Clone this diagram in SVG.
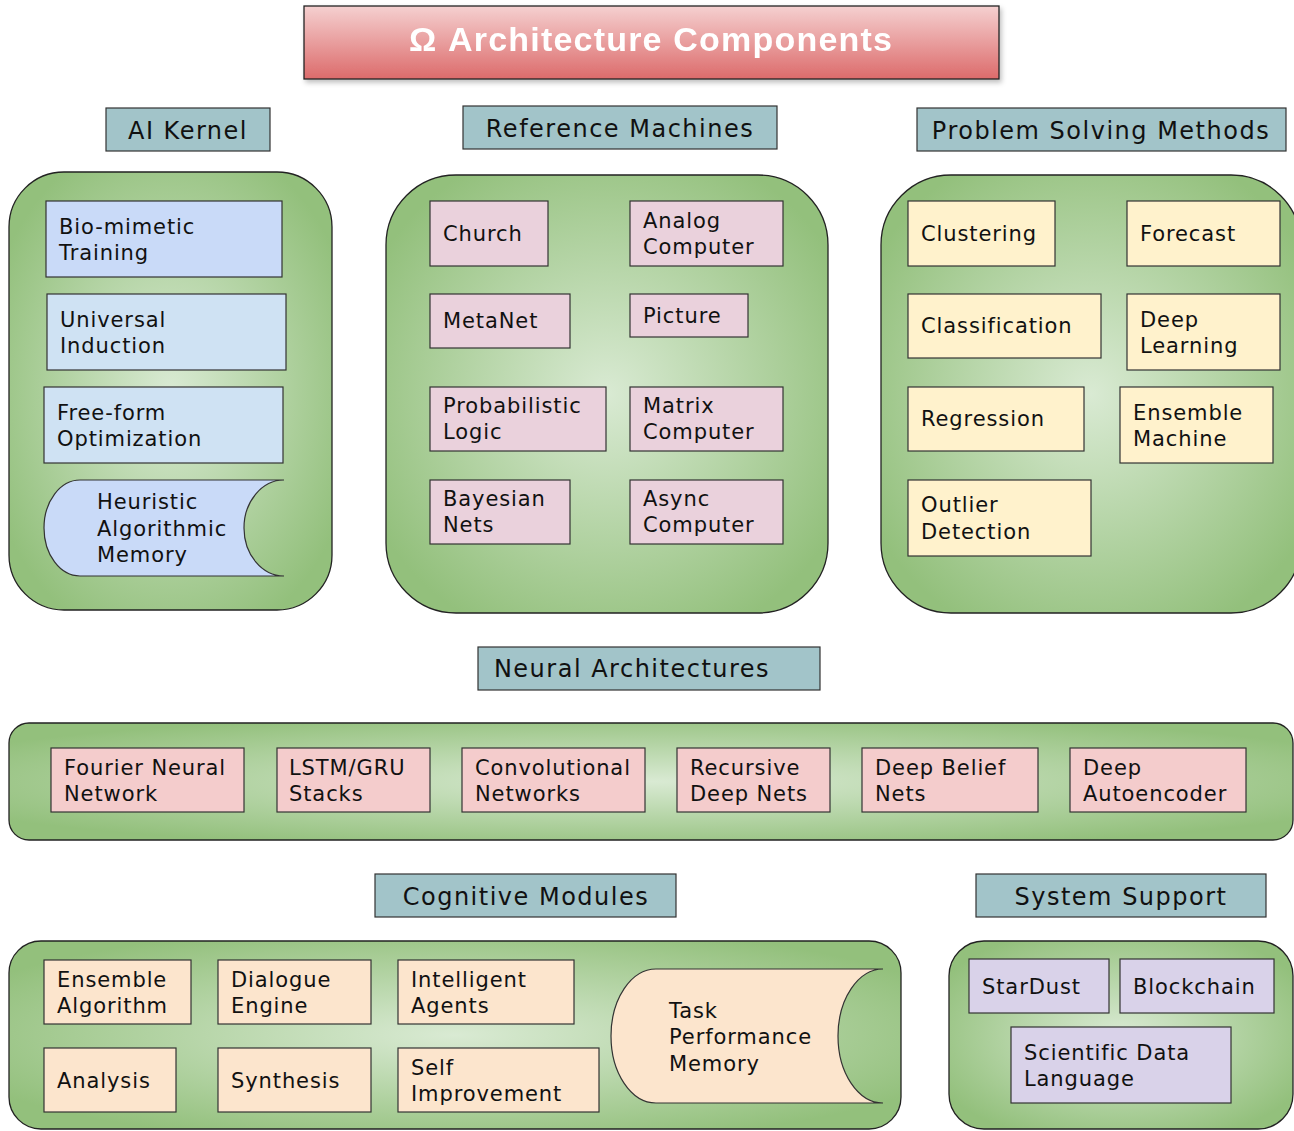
<svg xmlns="http://www.w3.org/2000/svg" width="1294" height="1131" viewBox="0 0 1294 1131">
<defs>
<linearGradient id="titleG" x1="0" y1="0" x2="0" y2="1"><stop offset="0" stop-color="#f5d0d0"/><stop offset="1" stop-color="#dc6b6b"/></linearGradient>
<radialGradient id="grn" cx="0.5" cy="0.5" r="0.6"><stop offset="0" stop-color="#d9ead3"/><stop offset="1" stop-color="#93c07c"/></radialGradient>
<filter id="sh" x="-5%" y="-10%" width="110%" height="130%"><feDropShadow dx="2" dy="3" stdDeviation="2.5" flood-color="#000" flood-opacity="0.25"/></filter>
<style>
.c{fill:url(#grn);stroke:#222;stroke-width:1.3}
.h{fill:#a2c4c9;stroke:#333;stroke-width:1.2}
.ht{font-family:"DejaVu Sans",sans-serif;font-size:24px;letter-spacing:1.5px;fill:#111;text-anchor:middle}
.t{font-family:"DejaVu Sans",sans-serif;font-size:21px;letter-spacing:0.9px;fill:#111}
.n{stroke:#333;stroke-width:1.2}
.b1{fill:#c9daf8}.b2{fill:#cfe2f3}.pk{fill:#ead1dc}.yl{fill:#fff2cc}.rd{fill:#f4cccc}.or{fill:#fce5cd}.lv{fill:#d9d2e9}
</style>
</defs>
<rect width="1294" height="1131" fill="#fff"/>
<g id="title" filter="url(#sh)">
<rect x="304" y="6" width="695" height="73" fill="url(#titleG)" stroke="#222" stroke-width="1.3"/>
<text x="651" y="51" font-family="Liberation Sans, sans-serif" font-size="34" font-weight="bold" letter-spacing="1.2" fill="#fff" text-anchor="middle">Ω Architecture Components</text>
</g>
<g id="connectors"></g>
<!-- headers -->
<g id="h-ai"><rect class="h" x="106" y="108" width="164" height="43"/><text class="ht" x="188" y="139">AI Kernel</text></g>
<g id="h-ref"><rect class="h" x="463" y="106" width="314" height="43"/><text class="ht" x="620" y="137">Reference Machines</text></g>
<g id="h-psm"><rect class="h" x="917" y="108" width="369" height="43"/><text class="ht" x="1101" y="139">Problem Solving Methods</text></g>
<g id="h-neu"><rect class="h" x="478" y="647" width="342" height="43"/><text class="ht" x="632" y="677">Neural Architectures</text></g>
<g id="h-cog"><rect class="h" x="375" y="874" width="301" height="43"/><text class="ht" x="526" y="905">Cognitive Modules</text></g>
<g id="h-sys"><rect class="h" x="976" y="874" width="290" height="43"/><text class="ht" x="1121" y="905">System Support</text></g>
<!-- containers -->
<g id="c-ai"><rect class="c" x="9" y="172" width="323" height="438" rx="55"/></g>
<g id="c-ref"><rect class="c" x="386" y="175" width="442" height="438" rx="70"/></g>
<g id="c-psm"><rect class="c" x="881" y="175" width="420" height="438" rx="70"/></g>
<g id="c-neu"><rect class="c" x="9" y="723" width="1284" height="117" rx="20"/></g>
<g id="c-cog"><rect class="c" x="9" y="941" width="892" height="188" rx="32"/></g>
<g id="c-sys"><rect class="c" x="949" y="941" width="344" height="188" rx="35"/></g>
<!-- AI kernel nodes -->
<g id="n-bio"><rect class="n b1" x="46" y="201" width="236" height="76"/><text class="t" x="59" y="234">Bio-mimetic</text><text class="t" x="59" y="260">Training</text></g>
<g id="n-uni"><rect class="n b2" x="47" y="294" width="239" height="76"/><text class="t" x="60" y="327">Universal</text><text class="t" x="60" y="353">Induction</text></g>
<g id="n-ff"><rect class="n b2" x="44" y="387" width="239" height="76"/><text class="t" x="57" y="420">Free-form</text><text class="t" x="57" y="446">Optimization</text></g>
<g id="n-ham"><path class="n b1" d="M80 480 L284 480 A40 48 0 0 0 284 576 L80 576 A36 48 0 0 1 80 480 Z"/><text class="t" x="97" y="509">Heuristic</text><text class="t" x="97" y="536">Algorithmic</text><text class="t" x="97" y="562">Memory</text></g>
<!-- Reference machines -->
<g id="n-church"><rect class="n pk" x="430" y="201" width="118" height="65"/><text class="t" x="443" y="241">Church</text></g>
<g id="n-analog"><rect class="n pk" x="630" y="201" width="153" height="65"/><text class="t" x="643" y="228">Analog</text><text class="t" x="643" y="254">Computer</text></g>
<g id="n-metanet"><rect class="n pk" x="430" y="294" width="140" height="54"/><text class="t" x="443" y="328">MetaNet</text></g>
<g id="n-picture"><rect class="n pk" x="630" y="294" width="118" height="43"/><text class="t" x="643" y="323">Picture</text></g>
<g id="n-prob"><rect class="n pk" x="430" y="387" width="176" height="64"/><text class="t" x="443" y="413">Probabilistic</text><text class="t" x="443" y="439">Logic</text></g>
<g id="n-matrix"><rect class="n pk" x="630" y="387" width="153" height="64"/><text class="t" x="643" y="413">Matrix</text><text class="t" x="643" y="439">Computer</text></g>
<g id="n-bayes"><rect class="n pk" x="430" y="480" width="140" height="64"/><text class="t" x="443" y="506">Bayesian</text><text class="t" x="443" y="532">Nets</text></g>
<g id="n-async"><rect class="n pk" x="630" y="480" width="153" height="64"/><text class="t" x="643" y="506">Async</text><text class="t" x="643" y="532">Computer</text></g>
<!-- Problem solving -->
<g id="n-clus"><rect class="n yl" x="908" y="201" width="147" height="65"/><text class="t" x="921" y="241">Clustering</text></g>
<g id="n-fore"><rect class="n yl" x="1127" y="201" width="153" height="65"/><text class="t" x="1140" y="241">Forecast</text></g>
<g id="n-class"><rect class="n yl" x="908" y="294" width="193" height="64"/><text class="t" x="921" y="333">Classification</text></g>
<g id="n-deep"><rect class="n yl" x="1127" y="294" width="153" height="76"/><text class="t" x="1140" y="327">Deep</text><text class="t" x="1140" y="353">Learning</text></g>
<g id="n-reg"><rect class="n yl" x="908" y="387" width="176" height="64"/><text class="t" x="921" y="426">Regression</text></g>
<g id="n-ens"><rect class="n yl" x="1120" y="387" width="153" height="76"/><text class="t" x="1133" y="420">Ensemble</text><text class="t" x="1133" y="446">Machine</text></g>
<g id="n-out"><rect class="n yl" x="908" y="480" width="183" height="76"/><text class="t" x="921" y="512">Outlier</text><text class="t" x="921" y="539">Detection</text></g>
<!-- Neural -->
<g id="n-fno"><rect class="n rd" x="51" y="748" width="193" height="64"/><text class="t" x="64" y="775">Fourier Neural</text><text class="t" x="64" y="801">Network</text></g>
<g id="n-lstm"><rect class="n rd" x="277" y="748" width="153" height="64"/><text class="t" x="289" y="775">LSTM/GRU</text><text class="t" x="289" y="801">Stacks</text></g>
<g id="n-conv"><rect class="n rd" x="462" y="748" width="183" height="64"/><text class="t" x="475" y="775">Convolutional</text><text class="t" x="475" y="801">Networks</text></g>
<g id="n-rec"><rect class="n rd" x="677" y="748" width="153" height="64"/><text class="t" x="690" y="775">Recursive</text><text class="t" x="690" y="801">Deep Nets</text></g>
<g id="n-dbn"><rect class="n rd" x="862" y="748" width="176" height="64"/><text class="t" x="875" y="775">Deep Belief</text><text class="t" x="875" y="801">Nets</text></g>
<g id="n-ae"><rect class="n rd" x="1070" y="748" width="176" height="64"/><text class="t" x="1083" y="775">Deep</text><text class="t" x="1083" y="801">Autoencoder</text></g>
<!-- Cognitive -->
<g id="n-ea"><rect class="n or" x="44" y="960" width="147" height="64"/><text class="t" x="57" y="987">Ensemble</text><text class="t" x="57" y="1013">Algorithm</text></g>
<g id="n-de"><rect class="n or" x="218" y="960" width="153" height="64"/><text class="t" x="231" y="987">Dialogue</text><text class="t" x="231" y="1013">Engine</text></g>
<g id="n-ia"><rect class="n or" x="398" y="960" width="176" height="64"/><text class="t" x="411" y="987">Intelligent</text><text class="t" x="411" y="1013">Agents</text></g>
<g id="n-an"><rect class="n or" x="44" y="1048" width="132" height="64"/><text class="t" x="57" y="1088">Analysis</text></g>
<g id="n-syn"><rect class="n or" x="218" y="1048" width="153" height="64"/><text class="t" x="231" y="1088">Synthesis</text></g>
<g id="n-self"><rect class="n or" x="398" y="1048" width="201" height="64"/><text class="t" x="411" y="1075">Self</text><text class="t" x="411" y="1101">Improvement</text></g>
<g id="n-tpm"><path class="n or" d="M656 969 L883 969 A45 67 0 0 0 883 1103 L656 1103 A45 67 0 0 1 656 969 Z"/><text class="t" x="669" y="1018">Task</text><text class="t" x="669" y="1044">Performance</text><text class="t" x="669" y="1071">Memory</text></g>
<!-- System support -->
<g id="n-star"><rect class="n lv" x="969" y="959" width="140" height="54"/><text class="t" x="982" y="994">StarDust</text></g>
<g id="n-block"><rect class="n lv" x="1120" y="959" width="154" height="54"/><text class="t" x="1133" y="994">Blockchain</text></g>
<g id="n-sdl"><rect class="n lv" x="1011" y="1027" width="220" height="76"/><text class="t" x="1024" y="1060">Scientific Data</text><text class="t" x="1024" y="1086">Language</text></g>
</svg>
